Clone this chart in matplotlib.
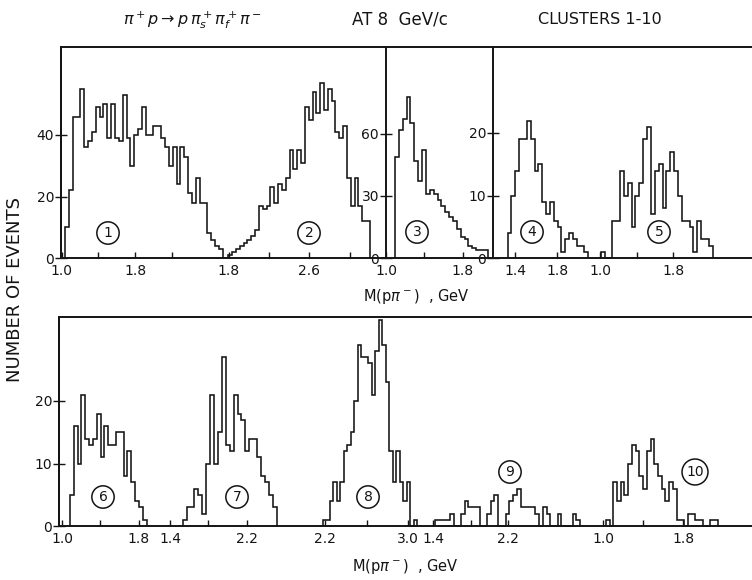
import numpy as np
import matplotlib
matplotlib.use('Agg')
import matplotlib.pyplot as plt

plt.rcParams['font.family'] = ['DejaVu Sans']
plt.rcParams['mathtext.fontset'] = 'dejavusans'

# ---------------- data ----------------
# counts per bin and the mass range (GeV) covered by the bins of each cluster
c1_counts = [10, 22, 46, 46, 55, 36, 38, 41, 49, 46, 50, 39, 50, 39, 38, 53, 39, 30, 40, 42,
             49, 40, 40, 43, 43, 39, 36, 30, 36, 24, 36, 33, 21, 18, 26, 18, 18, 8, 6, 4, 3]
c1_range = (1.036, 2.756)
c2_counts = [1, 2, 3, 4, 5, 6, 7, 9, 17, 16, 17, 23, 18, 24, 22, 26, 35, 29, 35, 31,
             49, 45, 54, 47, 57, 48, 55, 51, 41, 39, 43, 26, 17, 26, 17, 12, 12]
c2_range = (1.795, 3.20)
c3_counts = [49, 62, 67, 78, 65, 47, 37, 52, 31, 33, 31, 28, 25, 22, 20, 18, 14, 10, 9, 6,
             5, 4, 4, 4]
c3_range = (1.094, 2.06)
c4_counts = [4, 10, 14, 19, 19, 22, 19, 14, 15, 9, 7, 9, 6, 5, 1, 3, 4, 3, 2, 2, 1]
c4_range = (1.33, 2.098)
c5_counts = [1, 0, 0, 6, 6, 14, 10, 12, 5, 10, 12, 19, 21, 7, 14, 15, 8, 14, 17, 14,
             10, 6, 6, 5, 1, 6, 3, 3, 2]
c5_range = (1.008, 2.229)
c6_counts = [5, 16, 10, 21, 14, 13, 14, 18, 11, 16, 13, 13, 15, 15, 8, 12, 7, 4, 3, 1]
c6_range = (1.083, 1.882)
c7_counts = [1, 3, 3, 6, 5, 2, 10, 21, 10, 15, 27, 13, 12, 21, 18, 17, 12, 14, 14, 11,
             8, 7, 5, 3]
c7_range = (1.532, 2.514)
c8_counts = [1, 1, 4, 7, 4, 7, 12, 13, 15, 20, 29, 27, 27, 26, 21, 28, 33, 29, 23, 12,
             7, 12, 7, 4, 7, 0, 1]
c8_range = (2.178, 3.087)
c9_counts = [1, 1, 1, 1, 2, 0, 0, 2, 4, 3, 3, 3, 0, 0, 2, 4, 5, 0, 0, 2,
             4, 5, 6, 3, 3, 3, 3, 2, 0, 3, 2, 0, 0, 2, 0, 0, 0, 2, 1]
c9_range = (1.421, 2.968)
c10_counts = [1, 0, 7, 4, 7, 5, 10, 13, 12, 8, 6, 12, 14, 10, 8, 6, 4, 7, 6, 1,
              1, 0, 2, 2, 1, 1, 0, 0, 1, 1]
c10_range = (1.028, 2.147)

cluster_labels = ['1', '2', '3', '4', '5', '6', '7', '8', '9', '10']

top_yticks_a = [0, 20, 40]
top_yticks_b = [0, 30, 60]
top_yticks_c = [0, 10, 20]
bot_yticks = [0, 10, 20]

# ---------------- layout (pixels) ----------------
W, H = 752, 580
INK = '#141414'
fig = plt.figure(figsize=(W / 100, H / 100), dpi=100)


def px_axes(x0, y_top, x1, y_base, z=1):
    return fig.add_axes([x0 / W, 1 - y_base / H, (x1 - x0) / W, (y_base - y_top) / H], zorder=z)


ROWS = {'top': (47, 258), 'bot': (317, 526)}

for left, key in [(61, 'top'), (59, 'bot')]:
    yt, yb = ROWS[key]
    fr = px_axes(left, yt, W + 5, yb, z=0)
    fr.set_xticks([])
    fr.set_yticks([])
    fr.spines['right'].set_visible(False)
    for s in ('top', 'left', 'bottom'):
        fr.spines[s].set_linewidth(1.4)
        fr.spines[s].set_color(INK)

# panel: (counts, range, row, x0, x1, ref_gev, ref_px, px_per_gev, px_per_count,
#         xticks, xticklabels, yticks)
panels = [
    (c1_counts, c1_range, 'top', 61, 226, 1.0, 61.7, 91.7, 3.075,
     [1.0, 1.4, 1.8, 2.2], ['1.0', '', '1.8', ''], top_yticks_a),
    (c2_counts, c2_range, 'top', 226, 386, 1.8, 228.8, 100.8, 3.075,
     [1.8, 2.2, 2.6, 3.0], ['1.8', '', '2.6', ''], None),
    (c3_counts, c3_range, 'top', 386, 493, 1.0, 386, 96.0, 2.07,
     [1.0, 1.4, 1.8], ['1.0', '', '1.8'], top_yticks_b),
    (c4_counts, c4_range, 'top', 493, 596, 1.4, 515, 105.0, 6.25,
     [1.4, 1.8], ['1.4', '1.8'], top_yticks_c),
    (c5_counts, c5_range, 'top', 596, 752, 1.0, 600, 91.7, 6.25,
     [1.0, 1.4, 1.8], ['1.0', '', '1.8'], None),
    (c6_counts, c6_range, 'bot', 59, 160, 1.0, 62, 96.0, 6.25,
     [1.0, 1.4, 1.8], ['1.0', '', '1.8'], bot_yticks),
    (c7_counts, c7_range, 'bot', 160, 300, 1.4, 170, 95.8, 6.25,
     [1.4, 1.8, 2.2], ['1.4', '', '2.2'], None),
    (c8_counts, c8_range, 'bot', 300, 424, 2.2, 325, 103.75, 6.25,
     [2.2, 2.6, 3.0], ['2.2', '', '3.0'], None),
    (c9_counts, c9_range, 'bot', 424, 596, 1.4, 433, 93.75, 6.25,
     [1.4, 1.8, 2.2], ['1.4', '', '2.2'], None),
    (c10_counts, c10_range, 'bot', 596, 752, 1.0, 603, 100.0, 6.25,
     [1.0, 1.4, 1.8], ['1.0', '', '1.8'], None),
]

for counts, rng, row, x0, x1, gref, pref, ppg, ppc, xt, xtl, yt_ in panels:
    ytop, ybase = ROWS[row]
    ax = px_axes(x0, ytop, x1, ybase, z=2)
    ax.patch.set_alpha(0)
    ax.set_xlim(gref + (x0 - pref) / ppg, gref + (x1 - pref) / ppg)
    ax.set_ylim(0, (ybase - ytop) / ppc)
    edges = np.linspace(rng[0], rng[1], len(counts) + 1)
    ax.stairs(counts, edges, baseline=0, color=INK, lw=1.15, clip_on=False)
    for s in ('top', 'right', 'bottom', 'left'):
        ax.spines[s].set_visible(False)
    ax.set_xticks(xt)
    ax.set_xticklabels(xtl)
    ax.tick_params(axis='x', direction='in', length=4, width=1.0, pad=4,
                   labelsize=10, colors=INK)
    if yt_ is not None:
        ax.spines['left'].set_visible(True)
        ax.spines['left'].set_linewidth(1.4)
        ax.spines['left'].set_color(INK)
        ax.set_yticks(yt_)
        ax.tick_params(axis='y', direction='inout', length=8, width=1.0, pad=1,
                       labelsize=10, colors=INK)
    else:
        ax.set_yticks([])

# circled cluster numbers
circle_pos = [(108, 233), (309, 233), (417, 232), (532, 232), (659, 232),
              (103, 497), (237, 497), (368, 497), (510, 472), (695, 472)]
for lab, (cx, cy) in zip(cluster_labels, circle_pos):
    fig.text(cx / W, 1 - cy / H, lab, ha='center', va='center', fontsize=10, color=INK,
             bbox=dict(boxstyle='circle,pad=0.3', fc='white', ec=INK, lw=1.1), zorder=5)

# titles and axis labels
fig.text(192 / W, 1 - 20 / H, r'$\pi^+p \rightarrow p\,\pi_s^+\pi_f^+\pi^-$', ha='center',
         va='center', fontsize=11.5, color=INK)
fig.text(400 / W, 1 - 20 / H, 'AT 8  GeV/c', ha='center', va='center', fontsize=12, color=INK)
fig.text(600 / W, 1 - 20 / H, 'CLUSTERS 1-10', ha='center', va='center', fontsize=11.5,
         color=INK)
fig.text(416 / W, 1 - 297 / H, r'M(p$\pi^-$)  , GeV', ha='center', va='center', fontsize=10.5,
         color=INK)
fig.text(405 / W, 1 - 566 / H, r'M(p$\pi^-$)  , GeV', ha='center', va='center', fontsize=10.5,
         color=INK)
fig.text(15 / W, 1 - 290 / H, 'NUMBER OF EVENTS', ha='center', va='center', rotation=90,
         fontsize=13, color=INK)

fig.savefig('out.png', dpi=100)
